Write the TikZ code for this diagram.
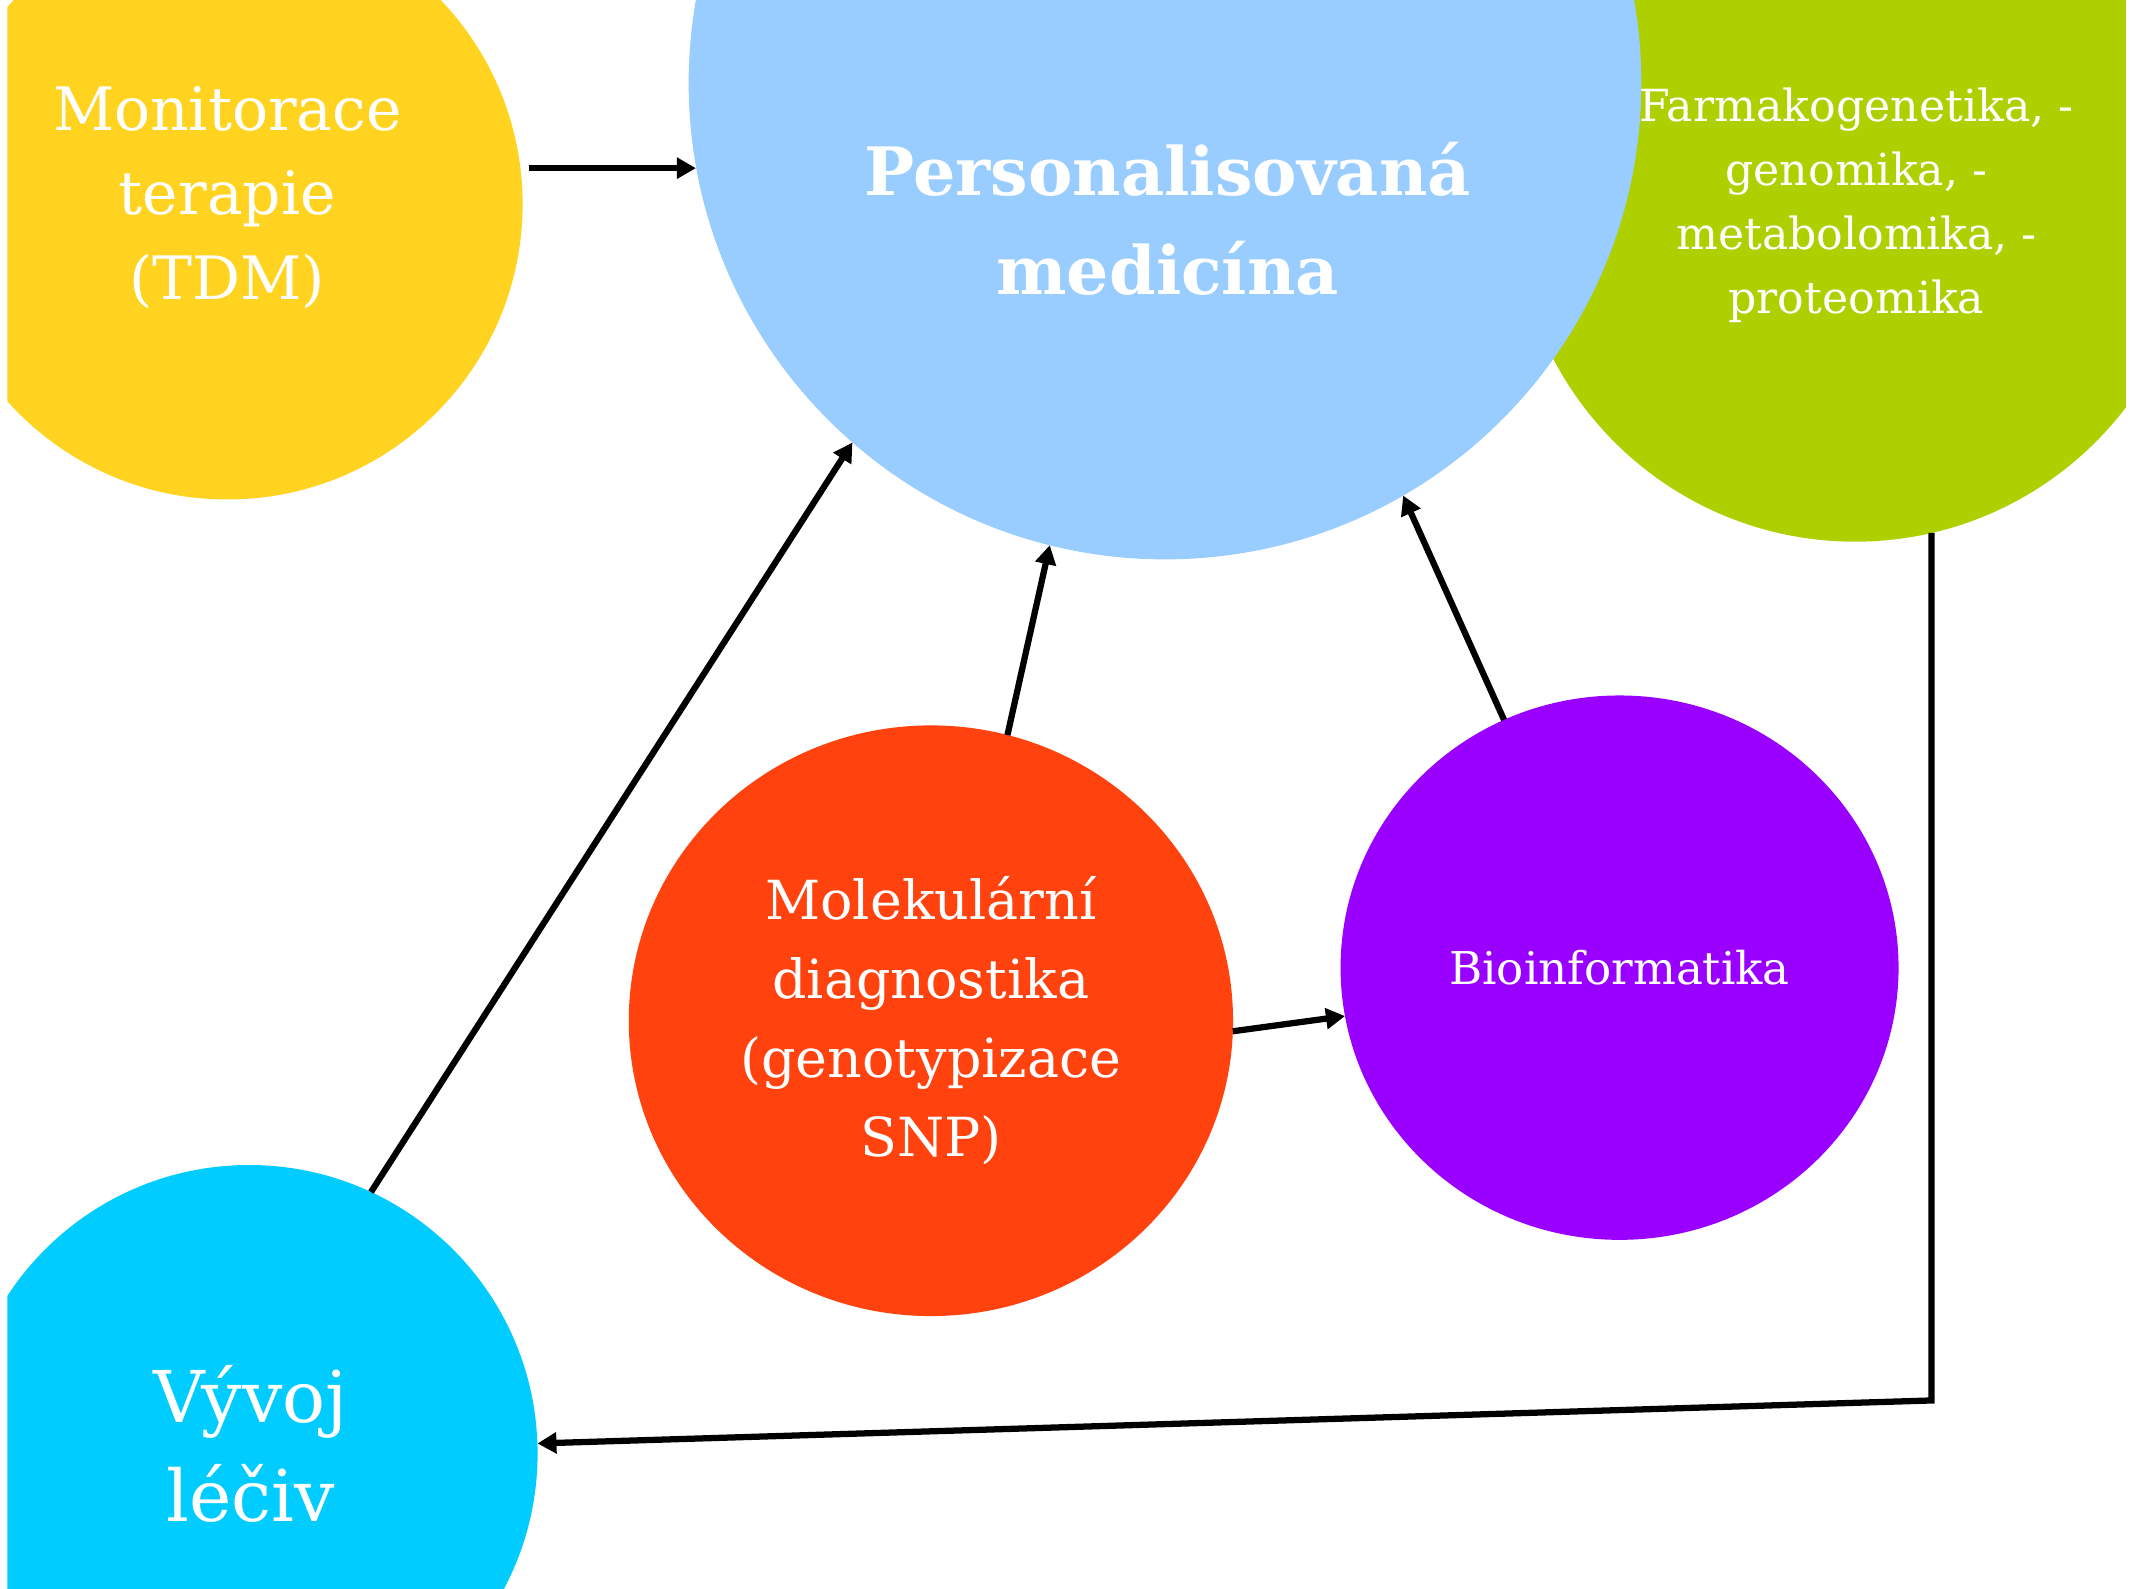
\documentclass[tikz,border=0pt]{standalone}
\usepackage{fontspec}
\setmainfont{DejaVu Serif}
\usetikzlibrary{arrows.meta,shapes.geometric,calc}
\definecolor{cYel}{HTML}{FFD320}
\definecolor{cBlu}{HTML}{99CCFF}
\definecolor{cGrn}{HTML}{AECF00}
\definecolor{cRed}{HTML}{FF420E}
\definecolor{cPur}{HTML}{9900FF}
\definecolor{cCya}{HTML}{00CCFF}
\begin{document}
\begin{tikzpicture}[x=1pt,y=-1pt,
  blob/.style={circle,inner sep=0pt,outer sep=0pt,draw=none},
  oval/.style={ellipse,inner sep=0pt,outer sep=0pt,draw=none},
  lbl/.style={text=white,align=center,inner sep=0pt},
  arr/.style={line width=4.6pt,-{Triangle[length=14pt,width=15pt]}}]
\useasboundingbox (0,0) rectangle (1568,1167);
\begin{scope}
\clip (5.5,0) rectangle (1562,1167);
\node[blob,fill=cGrn,minimum size=500pt] (grn) at (1363,148) {};
\node[blob,fill=cBlu,minimum size=700pt] (blu) at (856,61) {};
\node[blob,fill=cYel,minimum size=434pt] (yel) at (167,150) {};
\node[oval,fill=cRed,minimum width=444pt,minimum height=434pt] (red) at (684,750) {};
\node[oval,fill=cPur,minimum width=410pt,minimum height=400pt] (pur) at (1190,711) {};
\node[blob,fill=cCya,minimum size=424pt] (cya) at (183,1068) {};
\end{scope}
\node[lbl,font=\fontsize{44}{62}\selectfont] (tyel) at (167,145) {Monitorace\\terapie\\(TDM)};
\node[lbl,font=\fontsize{49}{73}\selectfont\bfseries] (tblu) at (858,161) {Personalisovaná\\medicína};
\node[lbl,font=\fontsize{32.5}{47}\selectfont] (tgrn) at (1364,151) {Farmakogenetika, -\\genomika, -\\metabolomika, -\\proteomika};
\node[lbl,font=\fontsize{39.6}{58}\selectfont] (tred) at (684,750) {Molekulární\\diagnostika\\(genotypizace\\SNP)};
\node[lbl,font=\fontsize{33.2}{40}\selectfont] (tpur) at (1190,711) {Bioinformatika};
\node[lbl,font=\fontsize{52.5}{73}\selectfont] (tcya) at (184,1061) {Vývoj\\léčiv};
\coordinate (a1) at ($(yel.7)+(6,0)$);
\coordinate (bend) at (1419,1029);
\draw[arr] (a1) -- (a1 -| blu.190);
\draw[arr] (red.75) -- (blu.256);
\draw[arr] (pur.115) -- (blu.300);
\draw[arr] (red.-2) -- (pur.190);
\draw[arr] (cya.65) -- (blu.229);
\draw[arr] (grn.283) -- (grn.283 |- bend) -- (cya.2);
\end{tikzpicture}
\end{document}
